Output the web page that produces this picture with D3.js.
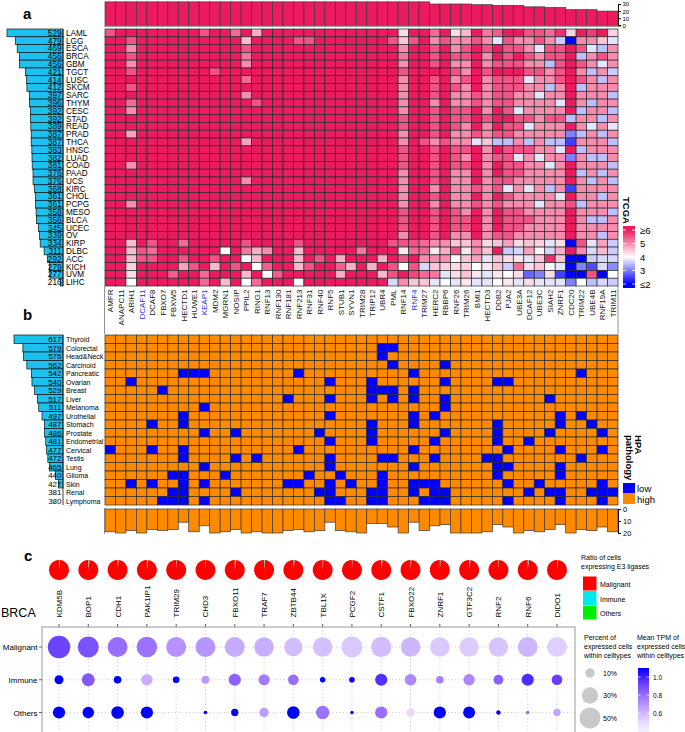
<!DOCTYPE html>
<html><head><meta charset="utf-8">
<script src="https://cdn.jsdelivr.net/npm/d3@7"></script>
<style>body{margin:0;background:#fff}svg{display:block}text{font-family:"Liberation Sans",Arial,Helvetica,sans-serif}</style>
</head><body><svg id="chart" width="685" height="732"></svg>
<script>
// ---------- Panel a data ----------
const tcgaCancers = ["LAML","LGG","ESCA","BRCA","GBM","TGCT","LUSC","SKCM","SARC","THYM","CESC","STAD","READ","PRAD","THCA","HNSC","LUAD","COAD","PAAD","UCS","KIRC","CHOL","PCPG","MESO","BLCA","UCEC","OV","KIRP","DLBC","ACC","KICH","UVM","LIHC"];
const tcgaCounts = [529,479,469,456,456,421,414,412,397,396,392,392,389,387,387,383,382,381,376,376,368,361,361,358,356,345,339,334,311,292,279,277,216];
const e3Genes = ["AMFR","ANAPC11","ARIH1","DCAF11","DCAF8","FBXO7","FBXW5","HECTD1","HUWE1","KEAP1","MDM2","MGRN1","NOSIP","PPIL2","RING1","RNF13","RNF130","RNF181","RNF213","RNF31","RNF40","RNF5","STUB1","SYVN1","TRIM28","TRIP12","UBR4","PML","RNF14","RNF4","TRIM27","HERC2","RBBP6","RNF26","TRIM26","BMI1","HECTD3","DDB2","PJA2","UBE3A","DCAF12","UBE3C","SIAH2","ZNRF1","CDC20","TRIM22","UBE4B","RNF19A","TRIM11"];
const highlightGenes = ["DCAF11","KEAP1","RNF4"];
const tcgaTopCounts = [33,33,33,33,33,33,33,33,33,33,33,33,33,33,33,33,33,33,33,33,33,33,33,33,33,33,33,33,33,33,33,30,30,30,30,29,29,28,28,28,26,26,25,25,22,22,22,20,20];
const tcgaTopTicks = [0,10,20,30];
// log2 expression per cancer (rows) x gene (columns)
const tcgaExpr = [
[5.5,6,6,6,6,6,6,6,6, 5.5,6,6,5.3,6,4.7,6,6,6, 6,6,6,6,6,6,6,6,6, 6,4.3,6,6,5.3,6,4.3,4.6,6,5.2,5.4,6,6,5.5,5.5,5.3,5.8,4.4,6,5.7,6,4.4],
[6,6,5.5,6,6,6,6,6,6, 6,6,6,6,4.6,6,6,6,6, 5.5,5.5,6,6,6,6,6,6,6, 5.5,4.5,5.5,6,5,5.5,5,5,5.5,5,3.8,5.5,5,5,5.5,5,3.6,2,5,5,4.5,3.8],
[6,6,5,6,6,6,6,6,6, 6,6,6,6,5.5,6,6,6,6, 6,6,6,6,6,6,6,6,6, 6,5,6,6,5.5,6,5,5.5,6,5.5,6,5.5,5.5,5,3.8,5.5,5.5,6,5.5,3.8,3.5,5],
[6,6,5.5,6,6,6,6,6,6, 6,6,6,6,5.2,6,6,6,6, 6,6,6,6,6,6,6,6,6, 6,5.2,6,6,5.5,6,5.5,5.5,6,5,6,5.5,6,5.5,5,5.5,5.5,6,3.5,5,5.5,5],
[6,6,5,6,6,6,6,6,6, 6,6,6,6,5,6,6,6,6, 6,6,6,6,6,6,6,6,6, 6,5,6,6,5.5,6,5,5,6,5,5.5,5.5,5.5,5,5,3.5,5.5,6,5.5,5,3.8,5],
[6,6,5.5,6,6,6,6,6,6, 6,5.5,6,6,6,6,6,6,6, 6,6,6,6,6,6,6,6,6, 6,5.5,6,6,6,6,5.5,5,6,5.5,6,6,6,5.5,5.5,5,5.5,6,5,3.5,5,3.6],
[6,6,6,6,6,6,6,6,6, 6,6,6,6,5.3,6,6,6,6, 6,6,6,6,6,6,6,6,6, 6,5,6,6,5.5,6,5,5.5,6,5,5.5,5.5,5.5,3.8,5,5,5.5,6,5.5,5,3.5,5],
[6,6,5.5,6,6,6,6,6,6, 6,6,6,6,6,6,6,6,6, 6,6,6,6,6,6,6,6,6, 6,5,6,6,5.5,6,5.5,5,6,5,5.5,5.5,5.5,5,5,3.5,5,6,3.5,5,5,5],
[6,6,6,6,6,6,6,6,6, 6,6,6,6,5,6,6,6,6, 6,6,6,6,6,6,6,6,6, 6,5,6,6,5.5,6,5,5,5.5,5,5.5,5.5,5,5,3.8,5,5,6,5,5,5,3.5],
[6,6,5.3,6,6,6,6,6,6, 6,6,6,6,6,5.5,6,6,6, 6,6,6,6,6,6,6,6,6, 6,5,6,6,5,6,5,5,5.5,5,5.5,5.5,5,5,5,5,3.8,6,5,3.5,5,5],
[6,6,5,6,6,6,6,6,6, 6,6,6,6,6,6,6,6,6, 6,6,6,6,6,6,6,6,6, 6,5,6,6,5.5,6,5.5,5.5,6,5,6,5.5,3.8,5,5,5,5,6,3.5,5,5,3.5],
[6,6,6,6,6,6,6,6,6, 6,6,6,6,6,6,6,6,6, 6,6,6,6,6,6,6,6,6, 6,5.5,6,6,5.5,6,5.5,5.5,6,5.5,6,6,5.5,5.5,5,5.5,5.5,3.5,5,5,3.5,5],
[6,6,6,6,6,6,6,6,6, 6,6,6,6,6,6,6,6,6, 6,6,6,6,6,6,6,6,6, 6,5.5,6,6,5.5,6,5.5,5,6,5,6,5.5,5.5,3.8,5,5,5,6,5,3.8,5,3.8],
[6,6,4.8,6,6,6,6,6,6, 6,6,6,6,6,6,6,6,6, 6,6,6,6,6,6,6,6,6, 6,5,6,6,5.5,6,5,5,5.5,5,5.5,5.5,5,5,5,5,5,3,3.5,5,3.5,5],
[6,6,6,6,6,6,6,6,6, 6,6,6,6,4.8,6,6,6,6, 6,6,6,6,6,6,6,6,6, 6,5,6,5.5,5,5.5,5,5,3.8,4.5,3.5,3.5,5,3.5,5,3.5,3.5,2.5,5,5,5,3.5],
[6,6,6,6,6,6,6,6,6, 6,6,6,6,6,6,6,6,6, 6,6,6,6,6,6,6,6,6, 6,5.5,6,6,5.5,6,5.5,5.5,6,5,6,5.5,5.5,5.5,5,5,3.8,6,3.5,5,5,5],
[6,6,6,6,6,6,6,6,6, 6,6,6,6,6,6,6,6,6, 6,6,6,6,6,6,6,6,6, 6,5.5,6,6,5.5,6,5.5,5,6,5,5.5,5.5,3.8,5,3.8,5,5,3,5,3.5,3.5,5],
[6,6,5,6,6,6,6,6,6, 6,6,6,6,6,6,6,6,6, 6,6,6,6,6,6,6,6,6, 6,5.5,6,6,5.5,6,5.5,5.5,6,5,6,5.5,5.5,5,5,3.8,5,6,5,5,5,3.5],
[6,6,6,6,6,6,6,6,6, 6,6,6,6,6,6,6,6,6, 6,6,6,6,6,6,6,6,6, 6,5,6,6,5.5,6,5,5,6,5,6,5.5,5.5,5,5,5,5,6,3.5,5,3.5,5],
[6,6,6,6,6,6,6,6,6, 6,6,6,6,5,6,6,6,6, 6,6,6,6,6,6,6,6,6, 6,5,6,6,5.5,6,5,5,6,5,5.5,5.5,5,5,5,5,5,6,5,3.5,5,3.5],
[6,6,6,6,6,6,6,6,6, 6,6,6,6,6,6,6,6,6, 6,6,6,6,6,6,6,6,6, 6,5,6,6,5,6,5,5,5.5,5,5.5,3.8,5,3.8,5,3.5,5,2.5,5,5,5,5],
[6,6,6,6,6,6,6,6,6, 6,6,6,6,6,6,6,6,6, 6,6,6,6,6,6,6,6,6, 6,5,6,6,5.5,6,5,5,6,5,6,5.5,5,5,5,5,3.8,6,5,5,3.5,5],
[6,6,5,6,6,6,6,6,6, 6,6,6,6,6,6,6,6,6, 6,6,6,6,6,6,6,6,6, 6,5,6,6,5,6,5,5,5.5,5,5.5,5,5,5,3.8,5,5,5.5,3.5,5,5,5],
[6,6,6,6,6,6,6,6,6, 6,6,6,6,6,6,6,6,6, 6,6,6,6,6,6,6,6,6, 6,5.5,6,6,5.5,6,5.5,5,6,5,6,5.5,5.5,5,5,5,5,6,5,5,5,3.5],
[6,6,6,6,6,6,6,6,6, 6,6,6,6,6,6,6,6,6, 6,6,6,6,6,6,6,6,6, 6,5.5,6,6,5.5,6,5.5,5.5,6,5,6,5.5,5.5,5.5,5,5,5,6,5,3.5,3.5,5],
[6,6,6,6,6,6,6,6,6, 6,6,6,6,6,6,6,6,6, 6,6,6,6,6,6,6,6,6, 6,5.5,6,6,5.5,6,5.5,5.5,6,5,6,5.5,5.5,5,5,5,5,6,5,5,5,5],
[6,6,6,6,6,6,6,6,6, 6,6,6,6,6,6,6,6,6, 6,6,6,6,6,6,6,6,6, 6,5,6,6,5.5,6,5,5,6,5,5.5,5.5,5,5,5,5,5,6,5,5,3.5,5],
[6,6,4.6,6,5.5,6,6,5.3,6, 6,6,6,6,5.5,6,6,6,6, 5.5,6,6,6,6,6,6,6,6, 5.5,5.5,5.5,5.3,5,5,4.5,4.5,5,4.3,4.5,4.8,4.3,4.5,4.4,3.8,4.3,2,5.5,3.8,4.8,3.6],
[6,6,4.6,5.5,5.3,6,6,6,6, 6,6,4,6,5.2,4.7,5,6,6, 4.6,6,6,6,6,6,5.2,6,6, 6,4.2,5.3,5.3,4.2,4.7,5.5,4.2,5,4.5,6,3.6,3.7,4.8,4.1,3.7,4.7,6,5,3.7,4.6,3.6],
[6,6,4.6,5.5,5.5,6,6,5.5,6, 6,5.5,6,6,4,4.6,6,6,6, 4.6,6,5.5,6,4.7,6,6,6,4.7, 6,5.5,6,5,5,5,4,4.5,4.8,3.8,4.5,4.3,4.2,3.8,4.5,5.8,4.5,2,2,3.6,3.7,3.7],
[6,6,4.4,6,6,6,6,4.8,5.5, 6,4.6,6,5.5,6,4,5.4,6,6, 4.6,5.5,6,6,5.4,4.7,6,4.7,6, 5.5,4,5.5,3.7,4.5,4.4,4.3,4.4,4,4.2,4.5,3.6,5.3,4.3,4.5,4,3.8,2,3,2.6,3.7,3.1],
[6,6,4.3,6,6,6,5.4,6,6, 5.3,6,6,6,4.6,6,4,5.4,6, 6,6,6,6,4.7,6,6,6,4.6, 5.5,6,5.6,5.3,5.2,3.8,4.3,4.5,4.2,3.8,4.2,4,4.3,2.8,3,4.3,2.5,2,2,5.5,2,4],
[6,6,4,6,6,6,6,6,6, 5.3,6,4.6,6,4,5.3,6,6,6, 4,6,6,6,6,6,6,6,6, 3.7,5,4.5,4.5,3.8,4,3.8,4.2,3.8,3.8,4,4.2,3.8,4.3,3.8,3.8,3.8,3,4,3.5,3.7,3.6]
];
const tcgaLegendTicks = [6,5,4,3,2];
const tcgaLegendLabels = ["\u22656","5","4","3","\u22642"];

// ---------- Panel b data ----------
const hpaCancers = ["Thyroid","Colorectal","Head&Neck","Carcinoid","Pancreatic","Ovarian","Breast","Liver","Melanoma","Urothelial","Stomach","Prostate","Endometrial","Cervical","Testis","Lung","Glioma","Skin","Renal","Lymphoma"];
const hpaCounts = [617,579,576,562,542,540,529,517,511,497,487,486,481,477,472,465,440,427,381,380];
// genes with "low" pathology staining in each cancer
const hpaLow = [
 [],
 ["UBR4","PML"],
 ["UBR4"],
 ["PML","RBBP6"],
 ["HECTD1","HUWE1","KEAP1","RNF213","RNF4","TRIM22"],
 ["ARIH1","RNF5","TRIP12","RBBP6","DDB2","PJA2"],
 ["FBXO7","TRIP12","UBR4","PML","RNF4"],
 ["RNF181","RNF5","TRIP12","PML","RNF4","RBBP6","SIAH2"],
 ["KEAP1","RBBP6"],
 ["HECTD1","RNF5","RNF4","HERC2","ZNRF1","TRIM22"],
 ["DCAF8","HECTD1","TRIP12","RNF4","DDB2","ZNRF1","UBE4B"],
 ["KEAP1","NOSIP","RNF40","TRIP12","RBBP6","DDB2","SIAH2","RNF19A"],
 ["RNF5","TRIP12","HERC2","DDB2","DCAF12"],
 ["AMFR","DCAF8","HECTD1","RNF213","RNF4","PJA2","ZNRF1","RNF19A"],
 ["HECTD1","NOSIP","RING1","RNF5","UBR4","PML","HERC2","HECTD3","DDB2","TRIM22"],
 ["KEAP1","RNF5","RNF4","DDB2","PJA2","ZNRF1"],
 ["FBXW5","HECTD1","MGRN1","RNF31","STUB1","UBR4","DDB2","ZNRF1"],
 ["ARIH1","DCAF8","HECTD1","KEAP1","RNF181","RNF213","RNF5","SYVN1","UBR4","RNF4","TRIM27","HERC2","PJA2","UBE3C","RNF19A"],
 ["FBXW5","HECTD1","NOSIP","RNF40","RNF5","TRIP12","UBR4","RNF4","HERC2","RBBP6","DCAF12","SIAH2","ZNRF1","UBE4B","RNF19A","TRIM11"],
 ["FBXO7","FBXW5","HECTD1","KEAP1","RNF5","STUB1","TRIP12","UBR4","TRIM27","HERC2","RBBP6","PJA2","ZNRF1","RNF19A"]
];
const hpaHighCounts = [19,20,18,20,17,18,17,11,19,14,20,19,17,20,19,20,20,18,17,19,18,11,18,19,20,12,12,15,20,11,18,14,13,20,20,20,19,13,15,20,18,19,17,13,20,17,18,15,19];
const hpaBottomTicks = [0,10,20];

// ---------- Panel c data ----------
const scGenes = ["KDM5B","BOP1","CDH1","PAK1IP1","TRIM29","CHD3","FBXO11","TRAF7","ZBTB44","TBL1X","PCGF2","CSTF1","FBXO22","ZNRF1","GTF3C2","RNF2","RNF6","DIDO1"];
const cellTypes = ["Malignant","Immune","Others"];
const pieOthers    = [0.008,0.008,0.008,0.010,0.004,0.004,0.010,0.008,0.008,0.006,0.004,0.010,0.006,0.006,0.010,0.005,0.008,0.008];
const pieImmune    = [0.010,0.015,0.008,0.015,0.006,0.006,0.015,0.010,0.015,0.006,0.005,0.015,0.010,0.008,0.015,0.006,0.012,0.012];
const pieMalignant = [0.982,0.977,0.984,0.975,0.990,0.990,0.975,0.982,0.977,0.988,0.991,0.975,0.984,0.986,0.975,0.989,0.980,0.980];
const pctMalignant = [57,50,45,48,45,45,45,43,38,43,50,47,43,43,43,43,45,45];
const pctImmune    = [9,19,6.6,15,5,7,17,14,13,3.3,3.6,17,15,6.6,14.6,11,17,13];
const pctOthers    = [17,15,18,17,0,1.5,6,10,18,20,1.3,17,8,17,16,2.2,1.5,6];
const tpmMalignant = [0.92,0.88,0.80,0.79,0.70,0.69,0.63,0.62,0.58,0.57,0.55,0.58,0.60,0.55,0.54,0.56,0.60,0.53];
const tpmImmune    = [1.05,0.86,1.05,0.62,1.05,0.68,0.84,0.76,0.80,1.05,1.05,0.97,0.73,0.75,0.73,0.84,0.98,0.93];
const tpmOthers    = [1.05,1.05,1.05,1.05,1.05,1.05,1.05,0.67,1.05,0.79,1.05,0.80,0.50,1.05,1.05,1.05,0.80,0.65];
const sizeLegend = [10,30,50];
const tpmLegendTicks = [1.0,0.8,0.6];

// ---------- drawing ----------
const svg = d3.select("#chart");
const FONT = '"Liberation Sans",Arial,Helvetica,sans-serif';
const PINK = "#ec1a5e", CYAN = "#1cc1f0", ORANGE = "#ff8a00", BLUE = "#0000ff";
const defs = svg.append("defs");

function label(t, x, y, size, opts={}) {
  const el = svg.append("text").attr("x", x).attr("y", y).attr("font-size", size).text(t);
  if (opts.bold) el.attr("font-weight", "bold");
  if (opts.anchor) el.attr("text-anchor", opts.anchor);
  if (opts.fill) el.attr("fill", opts.fill);
  if (opts.rot !== undefined) el.attr("transform", `rotate(${opts.rot},${x},${y})`);
  return el;
}

const xH = d3.scaleBand().domain(e3Genes).range([105, 618]);

// ===== Panel a =====
label("a", 23, 19, 15, {bold: true});
const yA = d3.scaleBand().domain(tcgaCancers).range([29, 286]);
const colA = d3.scaleLinear().domain([2,4,6]).range([BLUE, "#ffffff", PINK]).clamp(true);

// top bars
const yTop = d3.scaleLinear().domain([0,30]).range([25.3, 4]);
svg.append("g").selectAll("rect").data(e3Genes).join("rect")
  .attr("x", (g) => xH(g)).attr("width", xH.bandwidth())
  .attr("y", (g,i) => yTop(tcgaTopCounts[i])).attr("height", (g,i) => yTop(0) - yTop(tcgaTopCounts[i]))
  .attr("fill", PINK).attr("stroke", "#3a3a3a").attr("stroke-width", 0.7);
svg.append("line").attr("x1", 104).attr("x2", 618).attr("y1", 26.5).attr("y2", 26.5).attr("stroke", "#999").attr("stroke-width", 1);
const axTop = svg.append("g").attr("transform", "translate(618,0)")
  .call(d3.axisRight(yTop).tickValues(tcgaTopTicks).tickSize(3).tickPadding(1.5));
axTop.selectAll("text").attr("font-size", 6).attr("font-family", FONT);

// heatmap
tcgaCancers.forEach((c, ri) => {
  svg.append("g").selectAll("rect").data(tcgaExpr[ri]).join("rect")
    .attr("x", (v,ci) => xH(e3Genes[ci])).attr("y", yA(c))
    .attr("width", xH.bandwidth()).attr("height", yA.bandwidth())
    .attr("fill", (v) => colA(v)).attr("stroke", "#2b2b2b").attr("stroke-width", 0.7);
});

// left bars
const xBarA = d3.scaleLinear().domain([200, 529]).range([0, 56]).clamp(true);
svg.append("g").selectAll("rect").data(tcgaCancers).join("rect")
  .attr("x", (c,i) => 63 - xBarA(tcgaCounts[i])).attr("width", (c,i) => xBarA(tcgaCounts[i]))
  .attr("y", (c) => yA(c)).attr("height", yA.bandwidth())
  .attr("fill", CYAN).attr("stroke", "#111").attr("stroke-width", 0.7);
svg.append("line").attr("x1", 63).attr("x2", 63).attr("y1", 29).attr("y2", 286).attr("stroke", "#111").attr("stroke-width", 0.8);
tcgaCancers.forEach((c, i) => {
  const yc = yA(c) + yA.bandwidth()/2 + 3;
  label(tcgaCounts[i], 61.5, yc, 8.2, {anchor: "end"});
  label(c, 66, yc, 8.2);
});

// TCGA legend
label("TCGA", 623, 197, 9.5, {bold: true, rot: 90});
const yLegA = d3.scaleLinear().domain([6,2]).range([230, 284]);
const gradA = defs.append("linearGradient").attr("id", "gradA").attr("x1", 0).attr("x2", 0).attr("y1", 0).attr("y2", 1);
gradA.append("stop").attr("offset", 0).attr("stop-color", colA(6));
[6,5.5,5,4.5,4,3.5,3,2.5,2].forEach((v) => {
  gradA.append("stop").attr("offset", (yLegA(v) - 226) / (288 - 226)).attr("stop-color", colA(v));
});
gradA.append("stop").attr("offset", 1).attr("stop-color", colA(2));
svg.append("rect").attr("x", 623).attr("y", 226).attr("width", 12).attr("height", 62).attr("fill", "url(#gradA)");
tcgaLegendTicks.forEach((v, i) => {
  svg.append("line").attr("x1", 623).attr("x2", 626).attr("y1", yLegA(v)).attr("y2", yLegA(v)).attr("stroke", "#fff").attr("stroke-width", 0.8);
  svg.append("line").attr("x1", 632).attr("x2", 635).attr("y1", yLegA(v)).attr("y2", yLegA(v)).attr("stroke", "#fff").attr("stroke-width", 0.8);
  label(tcgaLegendLabels[i], 640, yLegA(v) + 3.5, 9.5);
});

// ===== gene labels between a and b =====
svg.append("line").attr("x1", 104.5).attr("x2", 104.5).attr("y1", 286).attr("y2", 334).attr("stroke", "#777").attr("stroke-width", 0.8);
svg.append("line").attr("x1", 618).attr("x2", 618).attr("y1", 286).attr("y2", 334).attr("stroke", "#777").attr("stroke-width", 0.8);
e3Genes.forEach((g) => {
  const x = xH(g) + xH.bandwidth()/2 + 3;
  label(g, x, 289.5, 8, {anchor: "end", rot: -90, fill: highlightGenes.includes(g) ? "#2a2ae0" : "#111"});
});

// ===== Panel b =====
label("b", 23, 320, 15, {bold: true});
const yB = d3.scaleBand().domain(hpaCancers).range([335, 505]);
hpaCancers.forEach((c, ri) => {
  svg.append("g").selectAll("rect").data(e3Genes).join("rect")
    .attr("x", (g) => xH(g)).attr("y", yB(c))
    .attr("width", xH.bandwidth()).attr("height", yB.bandwidth())
    .attr("fill", (g) => hpaLow[ri].includes(g) ? BLUE : ORANGE)
    .attr("stroke", "#2b2b2b").attr("stroke-width", 0.7);
});
const xBarB = d3.scaleLinear().domain([407, 617]).range([0, 49]).clamp(true);
svg.append("g").selectAll("rect").data(hpaCancers).join("rect")
  .attr("x", (c,i) => 63 - xBarB(hpaCounts[i])).attr("width", (c,i) => xBarB(hpaCounts[i]))
  .attr("y", (c) => yB(c)).attr("height", yB.bandwidth())
  .attr("fill", CYAN).attr("stroke", "#111").attr("stroke-width", 0.7);
svg.append("line").attr("x1", 63).attr("x2", 63).attr("y1", 335).attr("y2", 505).attr("stroke", "#111").attr("stroke-width", 0.8);
hpaCancers.forEach((c, i) => {
  const yc = yB(c) + yB.bandwidth()/2 + 2.8;
  label(hpaCounts[i], 61.5, yc, 8, {anchor: "end"});
  label(c, 66, yc, 7);
});
// bottom bars
const yBot = d3.scaleLinear().domain([0,20]).range([509, 533]);
svg.append("g").selectAll("rect").data(e3Genes).join("rect")
  .attr("x", (g) => xH(g)).attr("width", xH.bandwidth())
  .attr("y", yBot(0)).attr("height", (g,i) => yBot(hpaHighCounts[i]) - yBot(0))
  .attr("fill", ORANGE).attr("stroke", "#3a3a3a").attr("stroke-width", 0.7);
svg.append("line").attr("x1", 104.5).attr("x2", 104.5).attr("y1", 508).attr("y2", 534).attr("stroke", "#777").attr("stroke-width", 0.8);
const axBot = svg.append("g").attr("transform", "translate(618,0)")
  .call(d3.axisRight(yBot).tickValues(hpaBottomTicks).tickSize(3).tickPadding(2));
axBot.selectAll("text").attr("font-size", 7.5).attr("font-family", FONT);

// HPA legend
label("HPA", 634.5, 435, 9.5, {bold: true, rot: 90});
label("pathology", 625.5, 435, 9.5, {bold: true, rot: 90});
svg.append("rect").attr("x", 623).attr("y", 483).attr("width", 12).attr("height", 10).attr("fill", BLUE);
svg.append("rect").attr("x", 623).attr("y", 493).attr("width", 12).attr("height", 11).attr("fill", ORANGE);
label("low", 637, 492, 9.5);
label("high", 637, 503, 9.5);

// ===== Panel c =====
label("c", 24, 561, 15, {bold: true});
const xC = d3.scalePoint().domain(scGenes).range([59, 557]);
const yC = d3.scalePoint().domain(cellTypes).range([647, 712.5]);
const rC = d3.scaleSqrt().domain([0, 60]).range([0, 11.5]);
const colC = d3.scaleLinear().domain([0.45, 1.05]).range(["#f1ecff", "#0000ff"]).interpolate(d3.interpolateLab).clamp(true);
const pieColors = {Others: "#00ee00", Immune: "#00e8f0", Malignant: "#ff0000"};

// pies
const pie = d3.pie().sort(null).value((d) => d.v);
const arc = d3.arc().innerRadius(0).outerRadius(10);
scGenes.forEach((g, i) => {
  const parts = [{k: "Others", v: pieOthers[i]}, {k: "Immune", v: pieImmune[i]}, {k: "Malignant", v: pieMalignant[i]}];
  svg.append("g").attr("transform", `translate(${xC(g)},570)`)
    .selectAll("path").data(pie(parts)).join("path")
    .attr("d", arc).attr("fill", (d) => pieColors[d.data.k]);
});
label("BRCA", 1, 617, 12.5);
scGenes.forEach((g) => label(g, xC(g) + 3, 617.5, 8, {anchor: "start", rot: -90}));

// box, grid
const boxL = 42, boxR = 575, boxT = 627, boxB = 745;
scGenes.forEach((g) => {
  svg.append("line").attr("x1", xC(g)).attr("x2", xC(g)).attr("y1", boxT).attr("y2", boxB).attr("stroke", "#bbb").attr("stroke-width", 0.8).attr("stroke-dasharray", "1,2.5");
  svg.append("line").attr("x1", xC(g)).attr("x2", xC(g)).attr("y1", boxT - 3).attr("y2", boxT).attr("stroke", "#333").attr("stroke-width", 0.8);
});
cellTypes.forEach((t) => {
  svg.append("line").attr("x1", boxL).attr("x2", boxR).attr("y1", yC(t)).attr("y2", yC(t)).attr("stroke", "#bbb").attr("stroke-width", 0.8).attr("stroke-dasharray", "1,2.5");
  svg.append("line").attr("x1", boxL - 3).attr("x2", boxL).attr("y1", yC(t)).attr("y2", yC(t)).attr("stroke", "#333").attr("stroke-width", 0.8);
  label(t, boxL - 4.5, yC(t) + 3, 8, {anchor: "end"});
});
svg.append("rect").attr("x", boxL).attr("y", boxT).attr("width", boxR - boxL).attr("height", boxB - boxT)
  .attr("fill", "none").attr("stroke", "#999").attr("stroke-width", 1);

const dots = [];
scGenes.forEach((g, i) => {
  dots.push({g, t: "Malignant", p: pctMalignant[i], m: tpmMalignant[i]});
  dots.push({g, t: "Immune", p: pctImmune[i], m: tpmImmune[i]});
  dots.push({g, t: "Others", p: pctOthers[i], m: tpmOthers[i]});
});
svg.append("g").selectAll("circle").data(dots.filter((d) => d.p > 0)).join("circle")
  .attr("cx", (d) => xC(d.g)).attr("cy", (d) => yC(d.t)).attr("r", (d) => rC(d.p))
  .attr("fill", (d) => colC(d.m));

// legends c
label("Ratio of cells", 581, 560, 7);
label("expressing E3 ligases", 581, 568.5, 7);
["Malignant","Immune","Others"].forEach((k, i) => {
  svg.append("rect").attr("x", 583).attr("y", 576.5 + i*14.5).attr("width", 13.5).attr("height", 14).attr("fill", pieColors[k]);
  label(k, 600, 587 + i*14.5, 7);
});
label("Percent of", 584, 640, 7);
label("expressed cells", 584, 649, 7);
label("within celltypes", 584, 658, 7);
label("Mean TPM of", 637, 639.5, 7);
label("expressed cells", 637, 648.5, 7);
label("within celltypes", 637, 657.5, 7);
const sizeLegY = [673, 695.5, 718];
sizeLegend.forEach((p, i) => {
  svg.append("circle").attr("cx", 590).attr("cy", sizeLegY[i]).attr("r", rC(p)).attr("fill", "#c9c9c9");
  label(p + "%", 603, sizeLegY[i] + 2.5, 7);
});
const yLegC = d3.scaleLinear().domain([1.0, 0.6]).range([677, 713]);
const gradC = defs.append("linearGradient").attr("id", "gradC").attr("x1", 0).attr("x2", 0).attr("y1", 0).attr("y2", 1);
d3.range(0, 1.0001, 0.1).forEach((t) => {
  const y = 668 + t * (736 - 668);
  gradC.append("stop").attr("offset", t).attr("stop-color", colC(yLegC.invert(y)));
});
svg.append("rect").attr("x", 638).attr("y", 668).attr("width", 11).attr("height", 68).attr("fill", "url(#gradC)");
tpmLegendTicks.forEach((v) => {
  svg.append("line").attr("x1", 638).attr("x2", 640.5).attr("y1", yLegC(v)).attr("y2", yLegC(v)).attr("stroke", "#fff").attr("stroke-width", 0.7);
  svg.append("line").attr("x1", 646.5).attr("x2", 649).attr("y1", yLegC(v)).attr("y2", yLegC(v)).attr("stroke", "#fff").attr("stroke-width", 0.7);
  label(v.toFixed(1), 653, yLegC(v) + 2.5, 6.5);
});
</script></body></html>
